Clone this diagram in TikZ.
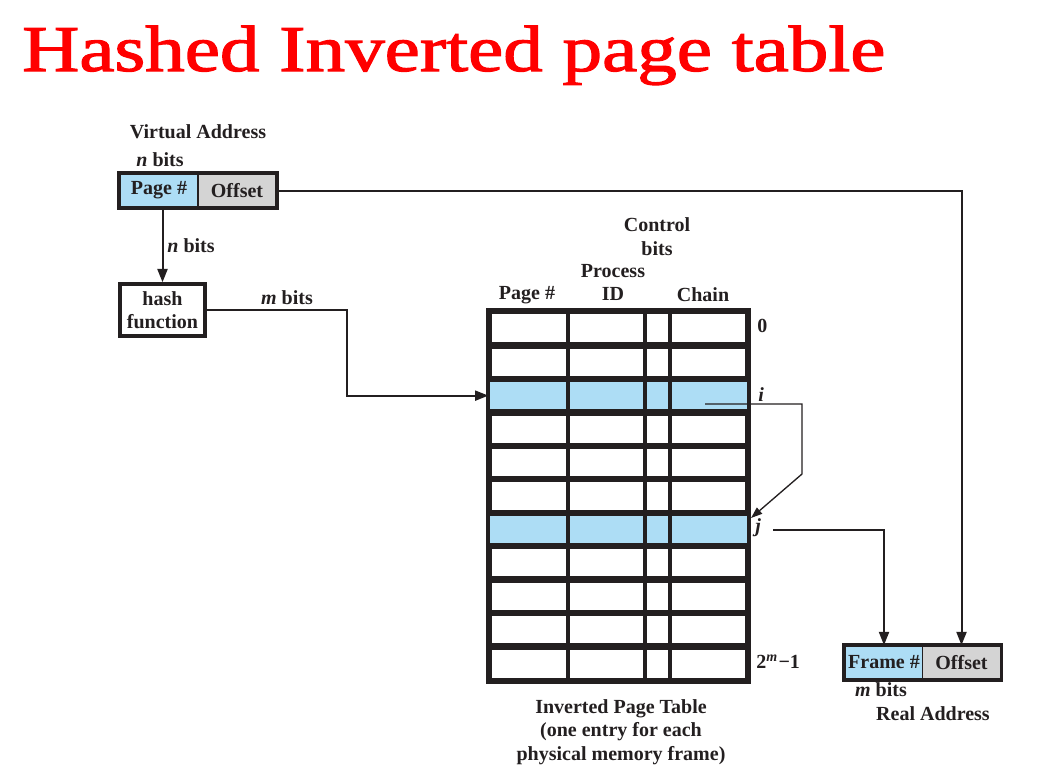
\documentclass[tikz,border=0pt]{standalone}
\usepackage{fontspec}
\setmainfont{Liberation Serif}
\newfontfamily\headingfont[FakeBold=1.6]{Liberation Serif}
\usetikzlibrary{arrows.meta}
\definecolor{cellblue}{HTML}{ADDDF5}
\definecolor{cellgray}{HTML}{D4D4D4}
\definecolor{ink}{HTML}{231F20}
\definecolor{titlered}{HTML}{FF0000}
\begin{document}
\begin{tikzpicture}[x=0.75pt,y=-0.75pt,
  lbl/.style={font=\bfseries\fontsize{15}{17.5}\selectfont, text=ink, inner sep=0pt, align=center},
  field/.style={draw=ink, line width=1.2pt, minimum width=58.5pt, minimum height=24.75pt, inner sep=0pt,
                font=\bfseries\fontsize{15}{17.5}\selectfont, text=ink},
  frame/.style={draw=ink, line width=2.6pt},
  tablerow/.style={draw=ink, line width=2.4pt, minimum width=192.75pt, minimum height=25.09pt, inner sep=0pt},
  conn/.style={draw=ink, line width=1.5pt, -{Triangle[length=10pt,width=7.5pt]}},
  chainlink/.style={draw=ink, line width=1pt, -{Triangle[length=8.5pt,width=6pt]}}
]
\useasboundingbox (0,0) rectangle (1063,779);

% title
\node[anchor=base west, inner sep=0pt, text=titlered] (title) at (22,71)
  {\resizebox{647pt}{34pt}{\headingfont\mdseries Hashed Inverted page table}};

% virtual address
\node[lbl] (valabel) at (198,132) {Virtual Address};
\node[lbl] (vabits) at (160,160) {\itshape n\upshape\ bits};
\node[field, fill=cellblue] (vpage) at (159,190.5) {Page \#};
\node[field, fill=cellgray] (voff) at (237,190.5) {Offset};
\draw[frame] (vpage.north west) rectangle (voff.south east);

% hash function
\node[draw=ink, line width=2.6pt, minimum width=63.75pt, minimum height=39pt, inner sep=0pt,
      lbl] (hash) at (162.5,310) {hash\\function};
\draw[conn] (vpage.south -| hash.north) -- (hash.north);
\node[lbl] (nbits) at (191,246) {\itshape n\upshape\ bits};

% inverted page table rows
\foreach \k in {0,...,10} {
  \node[tablerow] (r\k) at (618.5,{312+33.45*(\k+0.5)}) {};
}
\fill[cellblue] (r2.north west) rectangle (r2.south east);
\fill[cellblue] (r6.north west) rectangle (r6.south east);
\foreach \k in {0,...,10} {
  \draw[draw=ink, line width=2.4pt] (r\k.north west) rectangle (r\k.south east);
}
\foreach \cx in {568,645,670} {
  \draw[draw=ink, line width=2.4pt] (\cx,312) -- (\cx,680);
}
\draw[frame, line width=3pt] (r0.north west) rectangle (r10.south east);

% column headings
\node[lbl] (hpage) at (527,295) {Page \#};
\node[lbl] (hpid) at (613,282.5) {Process\\ID};
\node[lbl] (hctl) at (657,236.5) {Control\\bits};
\node[lbl] (hchain) at (703,295) {Chain};

% row labels
\node[lbl, anchor=west] (l0) at (757,326) {0};
\node[lbl, anchor=west] (li) at (758,395) {\itshape i};
\node[lbl, anchor=west] (lj) at (755,528) {\itshape j};
\node[lbl, anchor=west] (lm) at (756,662) {2\textsuperscript{\itshape m}\kern0.5pt−1};

% caption
\node[lbl] (caption) at (621,732) {Inverted Page Table\\(one entry for each\\physical memory frame)};

% hash output into table
\node[lbl] (mbits) at (287,298) {\itshape m\upshape\ bits};
\draw[conn] (hash.east) -- (347,310) |- (r2.west);

% chain link from row i to row j
\coordinate (chainstart) at (705,404);
\coordinate (chainend) at (751,518);
\draw[chainlink] (chainstart) -- (802,404) -- (802,474) -- (chainend);

% real address
\node[field, fill=cellblue] (rframe) at (884,662.5) {Frame \#};
\node[field, fill=cellgray] (roff) at (961.5,662.5) {Offset};
\draw[frame] (rframe.north west) rectangle (roff.south east);
\node[lbl] (rbits) at (881,690) {\itshape m\upshape\ bits};
\node[lbl] (ralabel) at (933,714) {Real Address};

% row j to frame number
\coordinate (jout) at (773,530);
\draw[conn] (jout) -| (rframe.north);

% offset passes straight through
\draw[conn] (voff.east) -| (roff.north);
\end{tikzpicture}
\end{document}
